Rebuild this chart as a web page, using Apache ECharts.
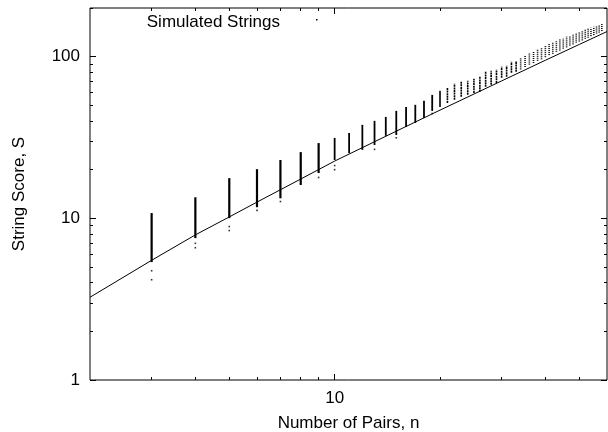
<!DOCTYPE html>
<html><head><meta charset="utf-8">
<script src="https://cdn.jsdelivr.net/npm/echarts@6/dist/echarts.min.js"></script>
<style>html,body{margin:0;padding:0;background:#fff}#c{width:608px;height:432px}</style>
</head><body><div id="c"></div>
<script>
// ---- data ----
const nVals  = [3,4,5,6,7,8,9,10,11,12,13,14,15,16,17,18,19,20,21,22,23,24,25,26,27,28,29,30,31,32,33,34,35,36,37,38,39,40,41,42,43,44,45,46,47,48,49,50,51,52,53,54,55,56,57,58];
const loVals = [5.4,7.6,10.1,11.8,13.4,16.2,19.2,23.1,25.5,26.7,28.6,32.6,33.0,37.0,39.2,42.1,46.5,49.2,52.1,54.5,56.9,58.5,60.1,61.0,65.5,67.4,69.3,74.5,75.6,80.0,81.2,84,87,90,92,95,97,100,103,105,108,110,113,115,118,120,123,125,127,130,132,135,137,140,142,145];
const hiVals = [10.7,13.4,17.6,20.0,22.8,25.5,29.0,31.2,33.5,37.6,39.8,42.1,45.9,48.5,50.0,52.9,57.6,61.0,63.7,67.4,69.4,70.4,72.4,74.5,80.0,81.2,82.3,86.0,87.3,92.4,93.5,97,101,104,107,110,113,116,119,121,124,127,129,132,134,137,139,141,143,146,148,150,152,154,156,158];
const outN = [3,3,4,4,5,5,6,7,9,10,10,13,15,19];
const outS = [4.74,4.17,6.58,7.0,8.4,8.9,11.2,12.7,17.9,20.0,21.2,26.7,31.5,44.5];
const fitN = [2,3,4,5,6,8,10,15,20,30,40,50,60];
const fitS = [3.25,5.5,7.9,10.2,12.6,17.5,22.6,34.6,46.7,70.8,95,119,143];
const xMajor = [10];
const xMinor = [3,4,5,6,7,8,9,20,30,40,50];
const yMajor = [1,10,100];
const yMinor = [2,3,4,5,6,7,8,9,20,30,40,50,60,70,80,90,200];
const legendName = 'Simulated Strings';
const xName = 'Number of Pairs, n';
const yName = 'String Score, S';

const FONT = 'Liberation Sans, Arial, sans-serif';
const chart = echarts.init(document.getElementById('c'));

function xAx(pos, ticks, len, labels){
  return {type:'log', logBase:10, min:2, max:60, position:pos, gridIndex:0,
    axisLine:{show:false}, splitLine:{show:false},
    axisTick:{show:true, inside:true, length:len, customValues:ticks, lineStyle:{color:'#000',width:1}},
    axisLabel:labels ? {show:true, customValues:labels, margin:10, color:'#000', fontSize:17, fontFamily:FONT} : {show:false},
    name: (pos==='bottom' && labels) ? xName : '', nameLocation:'middle', nameGap:35,
    nameTextStyle:{color:'#000', fontSize:17, fontFamily:FONT}};
}
function yAx(pos, ticks, len, labels){
  return {type:'log', logBase:10, min:1, max:200, position:pos, gridIndex:0,
    axisLine:{show:false}, splitLine:{show:false},
    axisTick:{show:true, inside:true, length:len, customValues:ticks, lineStyle:{color:'#000',width:1}},
    axisLabel:labels ? {show:true, customValues:labels, margin:10, color:'#000', fontSize:17, fontFamily:FONT} : {show:false},
    name: (pos==='left' && labels) ? yName : '', nameLocation:'middle', nameGap:62, nameRotate:90,
    nameTextStyle:{color:'#000', fontSize:17, fontFamily:FONT}};
}

const colData = nVals.map((n,i)=>[n, loVals[i], hiVals[i]]);
const outData = outN.map((n,i)=>[n, outS[i]]);
const fitData = fitN.map((n,i)=>[n, fitS[i]]);

chart.setOption({
  animation:false,
  backgroundColor:'#fff',
  grid:{left:90, right:1, top:8, bottom:52, outerBoundsMode:'none', containLabel:false, show:true, borderColor:'#000', borderWidth:1, backgroundColor:'transparent'},
  xAxis:[ xAx('bottom', xMajor, 6, xMajor), xAx('bottom', xMinor, 3, null), xAx('top', xMajor, 6, null), xAx('top', xMinor, 3, null) ],
  yAxis:[ yAx('left', yMajor, 6, yMajor), yAx('left', yMinor, 3, null), yAx('right', yMajor, 6, null), yAx('right', yMinor, 3, null) ],
  series:[
    {type:'custom', name:legendName, xAxisIndex:0, yAxisIndex:0, data:colData, encode:{x:0, y:[1,2]}, clip:true,
      renderItem:function(params, api){
        const n = api.value(0);
        const p1 = api.coord([n, api.value(1)]);
        const p2 = api.coord([n, api.value(2)]);
        const w = n < 10 ? 2.2 : (n < 20 ? 1.8 : 1.6);
        return {type:'line', shape:{x1:p1[0], y1:p1[1]+0.5, x2:p2[0], y2:p2[1]-0.5},
          style:{stroke:'#000', lineWidth:w, lineDash: n > 33 ? [1,1] : (n > 20 ? [2,0.6] : null)}};
      }},
    {type:'scatter', xAxisIndex:0, yAxisIndex:0, data:outData, symbol:'rect', symbolSize:1.6, itemStyle:{color:'#000'}, silent:true},
    {type:'line', xAxisIndex:0, yAxisIndex:0, data:fitData, showSymbol:false, symbol:'none', lineStyle:{color:'#000', width:1}, silent:true}
  ],
  graphic:[
    {type:'text', x:280, y:22, style:{text:legendName, fill:'#000', font:'17px '+FONT, textAlign:'right', textVerticalAlign:'middle'}},
    {type:'rect', x:316, y:19, shape:{x:0, y:0, width:1.5, height:1.5}, style:{fill:'#000'}}
  ]
});
</script></body></html>
